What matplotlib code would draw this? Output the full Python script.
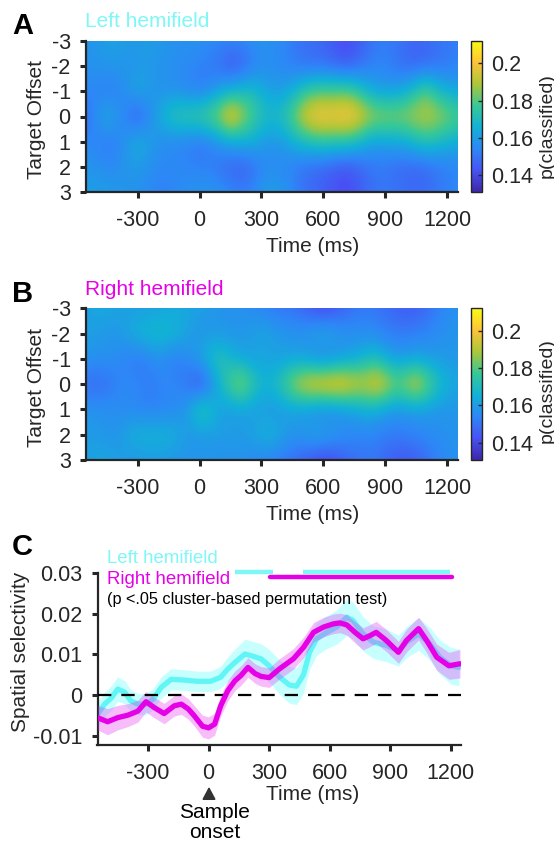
import numpy as np
import matplotlib
matplotlib.use('Agg')
import matplotlib.pyplot as plt
from matplotlib.colors import LinearSegmentedColormap

plt.rcParams['font.family'] = ['Liberation Sans', 'DejaVu Sans']
plt.rcParams['axes.unicode_minus'] = False

# ---------------- data ----------------
time_hm = [-550, -500, -450, -400, -350, -300, -250, -200, -150, -100, -50, 0, 50, 100, 150, 200, 250,
           300, 350, 400, 450, 500, 550, 600, 650, 700, 750, 800, 850, 900, 950, 1000, 1050, 1100,
           1150, 1200, 1250]
offsets = [-3, -2, -1, 0, 1, 2, 3]

# Panel A: Left hemifield p(classified)
A_m3 = [.158, .159, .161, .161, .160, .160, .161, .159, .158, .157, .157, .157, .156, .155, .155, .155, .157,
        .158, .157, .155, .152, .150, .149, .147, .144, .141, .143, .147, .151, .152, .151, .149, .147, .148,
        .150, .151, .152]
A_m2 = [.157, .158, .159, .159, .158, .158, .159, .158, .157, .156, .155, .153, .151, .148, .143, .145, .150,
        .155, .155, .154, .152, .149, .148, .148, .146, .144, .146, .150, .153, .153, .150, .147, .146, .147,
        .149, .151, .153]
A_m1 = [.155, .153, .151, .153, .158, .164, .161, .157, .157, .155, .153, .152, .155, .161, .165, .168, .170,
        .165, .161, .161, .165, .173, .178, .179, .179, .180, .176, .168, .162, .160, .161, .165, .174, .180,
        .170, .165, .162]
A_0 = [.148, .157, .165, .159, .151, .144, .153, .163, .172, .177, .178, .180, .184, .192, .204, .193, .181,
       .173, .170, .173, .183, .195, .202, .204, .203, .205, .203, .196, .190, .189, .188, .189, .191, .192,
       .190, .186, .182]
A_p1 = [.155, .153, .151, .153, .160, .166, .162, .157, .155, .153, .152, .150, .153, .158, .162, .164, .165,
        .161, .158, .160, .165, .170, .173, .175, .174, .174, .171, .165, .161, .162, .163, .165, .170, .173,
        .170, .167, .164]
A_p2 = [.158, .157, .155, .156, .158, .159, .157, .155, .155, .155, .154, .153, .152, .149, .146, .145, .147,
        .153, .155, .154, .152, .149, .147, .146, .144, .142, .144, .148, .150, .150, .148, .147, .146, .147,
        .150, .152, .153]
A_p3 = [.161, .161, .160, .159, .158, .157, .155, .153, .153, .155, .157, .158, .159, .157, .155, .153, .155,
        .159, .161, .159, .155, .151, .148, .146, .143, .141, .143, .147, .150, .151, .150, .149, .148, .149,
        .151, .153, .155]

# Panel B: Right hemifield p(classified)
B_m3 = [.161, .163, .163, .162, .161, .160, .160, .161, .162, .163, .162, .161, .160, .158, .157, .157, .155,
        .153, .151, .150, .149, .146, .142, .139, .142, .146, .149, .151, .150, .148, .146, .144, .145, .148,
        .152, .155, .157]
B_m2 = [.161, .160, .159, .159, .162, .167, .169, .170, .169, .166, .161, .158, .158, .158, .158, .159, .160,
        .163, .161, .159, .158, .159, .162, .165, .162, .158, .157, .156, .155, .153, .152, .152, .153, .154,
        .156, .157, .158]
B_m1 = [.158, .157, .157, .155, .153, .150, .153, .156, .153, .152, .156, .162, .170, .174, .167, .162, .161,
        .161, .161, .161, .161, .159, .155, .152, .155, .159, .162, .167, .170, .164, .160, .160, .161, .160,
        .159, .159, .159]
B_0 = [.148, .147, .149, .153, .155, .155, .152, .153, .155, .153, .148, .141, .151, .167, .181, .190, .178,
       .169, .169, .177, .189, .198, .203, .205, .206, .204, .199, .196, .200, .196, .186, .191, .197, .186,
       .174, .166, .163]
B_p1 = [.158, .158, .157, .156, .155, .153, .153, .153, .154, .156, .163, .176, .172, .162, .159, .160, .160,
        .159, .158, .159, .160, .158, .155, .153, .154, .157, .160, .164, .164, .160, .158, .158, .159, .159,
        .158, .158, .158]
B_p2 = [.160, .159, .158, .158, .163, .167, .167, .167, .167, .163, .159, .158, .159, .160, .161, .160, .162,
        .166, .167, .162, .159, .160, .163, .163, .160, .157, .155, .154, .153, .152, .152, .153, .154, .155,
        .156, .157, .158]
B_p3 = [.161, .163, .163, .161, .159, .158, .159, .159, .158, .158, .158, .159, .158, .157, .157, .157, .155,
        .153, .152, .150, .148, .145, .142, .139, .141, .145, .148, .150, .150, .147, .144, .143, .145, .149,
        .153, .155, .157]

# Panel C: spatial selectivity (mean and s.e.m.)
t_left = [-550, -515, -480, -450, -415, -385, -350, -310, -275, -235, -185, -120, -55, 10, 60, 95, 130, 180,
          210, 260, 300, 350, 400, 435, 470, 500, 535, 585, 635, 685, 715, 765, 815, 880, 940, 980, 1040,
          1095, 1145, 1200, 1240]
sel_left = [-0.0047, -0.0022, -0.0006, 0.0015, 0.0007, -0.0014, -0.0022, -0.0022, -0.0010, 0.0019, 0.0039,
            0.0037, 0.0034, 0.0034, 0.0044, 0.0064, 0.0080, 0.0101, 0.0097, 0.0089, 0.0072, 0.0045, 0.0025,
            0.0022, 0.0050, 0.0105, 0.0138, 0.0154, 0.0167, 0.0191, 0.0183, 0.0150, 0.0130, 0.0122, 0.0109,
            0.0130, 0.0150, 0.0126, 0.0093, 0.0072, 0.0068]
sem_left = [0.0030, 0.0030, 0.0030, 0.0030, 0.0028, 0.0027, 0.0026, 0.0026, 0.0026, 0.0026, 0.0026, 0.0025,
            0.0025, 0.0025, 0.0027, 0.0030, 0.0033, 0.0036, 0.0036, 0.0037, 0.0040, 0.0042, 0.0045, 0.0045,
            0.0045, 0.0042, 0.0040, 0.0040, 0.0042, 0.0045, 0.0045, 0.0042, 0.0040, 0.0040, 0.0038, 0.0038,
            0.0040, 0.0040, 0.0042, 0.0045, 0.0045]

t_right = [-550, -500, -450, -400, -350, -310, -270, -220, -170, -135, -100, -70, -30, 0, 30, 60, 95, 130, 160,
           195, 230, 260, 300, 350, 420, 470, 520, 570, 620, 650, 685, 725, 765, 800, 830, 880, 940, 980, 1040,
           1080, 1130, 1190, 1245]
sel_right = [-0.0055, -0.0065, -0.0055, -0.0049, -0.0039, -0.0016, -0.0030, -0.0045, -0.0026, -0.0022, -0.0034,
             -0.0051, -0.0076, -0.0080, -0.0071, -0.0026, 0.0011, 0.0035, 0.0048, 0.0068, 0.0053, 0.0046,
             0.0043, 0.0064, 0.0089, 0.0117, 0.0154, 0.0167, 0.0175, 0.0177, 0.0172, 0.0154, 0.0138, 0.0146,
             0.0154, 0.0134, 0.0105, 0.0134, 0.0163, 0.0134, 0.0093, 0.0072, 0.0077]
sem_right = [0.0030, 0.0032, 0.0030, 0.0028, 0.0027, 0.0025, 0.0025, 0.0025, 0.0025, 0.0025, 0.0025, 0.0025,
             0.0027, 0.0027, 0.0027, 0.0025, 0.0025, 0.0024, 0.0024, 0.0024, 0.0024, 0.0024, 0.0024, 0.0025,
             0.0025, 0.0025, 0.0024, 0.0024, 0.0024, 0.0024, 0.0025, 0.0026, 0.0027, 0.0027, 0.0027, 0.0027,
             0.0027, 0.0028, 0.0028, 0.0030, 0.0032, 0.0033, 0.0035]

# significant clusters (start, end) in ms
sig_left = [(133, 321), (470, 1197)]
sig_right = [(303, 1205)]

xticks = [-300, 0, 300, 600, 900, 1200]
cb_ticks = [0.14, 0.16, 0.18, 0.2]

# ---------------- style ----------------
W, H = 554, 842
fig = plt.figure(figsize=(W / 100, H / 100), dpi=100)
DARK = '#262626'
CYAN_TXT = '#7ff7f7'
MAGENTA = '#e600e6'
FS = 15.5


def rect(l, t, r, b):
    return [l / W, 1 - b / H, (r - l) / W, (b - t) / H]


def fx(x):
    return x / W


def fy(y):
    return 1 - y / H


# MATLAB parula colormap anchors
parula_anchors = [
    (0.2422, 0.1504, 0.6603), (0.2810, 0.3228, 0.9579), (0.1786, 0.5289, 0.9682), (0.0689, 0.6948, 0.8394),
    (0.2161, 0.7843, 0.5923), (0.6720, 0.7793, 0.2227), (0.9970, 0.7659, 0.2199), (0.9769, 0.9839, 0.0805)]
parula = LinearSegmentedColormap.from_list('parula', parula_anchors)


def style_axes(ax):
    for s in ['top', 'right']:
        ax.spines[s].set_visible(False)
    for s in ['left', 'bottom']:
        ax.spines[s].set_linewidth(1.6)
        ax.spines[s].set_color(DARK)
    ax.tick_params(direction='out', length=4, width=2.2, colors=DARK, labelsize=FS, pad=7)
    ax.tick_params(axis='x', pad=9)


def heat_panel(top, bottom, rows, letter, title, title_color, label_y):
    ax = fig.add_axes(rect(86, top, 457.6, bottom))
    cax = fig.add_axes(rect(471, top, 482.3, bottom))
    Z = np.array(rows)
    dt = (time_hm[1] - time_hm[0]) / 2
    im = ax.imshow(Z, cmap=parula, vmin=0.1307, vmax=0.2122, aspect='auto', interpolation='bicubic',
                   extent=[time_hm[0] - dt, time_hm[-1] + dt, offsets[-1] + 0.5, offsets[0] - 0.5])
    ax.set_xlim(-550, 1250)
    ax.set_ylim(3, -3)
    ax.set_xticks(xticks)
    ax.set_xticklabels([str(v) for v in xticks])
    ax.set_yticks(offsets)
    ax.set_yticklabels([str(v) for v in offsets])
    style_axes(ax)
    cb = fig.colorbar(im, cax=cax, ticks=cb_ticks)
    cb.ax.set_yticklabels(['0.14', '0.16', '0.18', '0.2'])
    cb.ax.tick_params(direction='in', length=3, width=1, labelsize=FS, pad=6, colors=DARK)
    cb.outline.set_linewidth(1.0)
    cb.outline.set_edgecolor(DARK)
    fig.text(fx(547), fy(label_y), 'p(classified)', rotation=90, ha='center', va='center',
             fontsize=14, color=DARK)
    fig.text(fx(12), fy(top - 14.5), letter, fontsize=21, fontweight='bold', ha='left', va='center',
             color='black')
    fig.text(fx(85), fy(top - 19), title, fontsize=15, color=title_color, ha='left', va='center')
    fig.text(fx(37), fy((top + bottom) / 2 + 3), 'Target Offset', rotation=90, ha='center', va='center',
             fontsize=15, color=DARK)
    fig.text(fx(312.7), fy(bottom + 54.4), 'Time (ms)', ha='center', va='center', fontsize=15, color=DARK)
    return ax


heat_panel(40.7, 192.3, [A_m3, A_m2, A_m1, A_0, A_p1, A_p2, A_p3], 'A', 'Left hemifield', CYAN_TXT, 126)
heat_panel(308.3, 460, [B_m3, B_m2, B_m1, B_0, B_p1, B_p2, B_p3], 'B', 'Right hemifield', MAGENTA, 391)

# ---------------- panel C ----------------
axC = fig.add_axes(rect(97.5, 572.7, 461, 745))
tl = np.array(t_left)
ml = np.array(sel_left)
sl = np.array(sem_left)
tr = np.array(t_right)
mr = np.array(sel_right)
sr = np.array(sem_right)

axC.fill_between(tl, ml - sl, ml + sl, color=(0.0, 1.0, 1.0), alpha=0.22, lw=0, zorder=1)
axC.plot(tl, ml, color=(0.25, 0.95, 0.95), lw=3.8, alpha=0.75, zorder=2, solid_capstyle='round')
axC.fill_between(tr, mr - sr, mr + sr, color=(0.9, 0.2, 0.95), alpha=0.32, lw=0, zorder=3)
axC.axhline(0, color='black', lw=1.6, ls=(0, (6, 4.5)), zorder=4)
axC.plot(tr, mr, color=MAGENTA, lw=3.8, zorder=5, solid_capstyle='round')

for s, e in sig_left:
    axC.plot([s, e], [0.0302, 0.0302], color='#7ff7f7', lw=3.2, clip_on=False, zorder=6,
             solid_capstyle='butt')
for s, e in sig_right:
    axC.plot([s, e], [0.0289, 0.0289], color=MAGENTA, lw=3.2, clip_on=False, zorder=7,
             solid_capstyle='round')

axC.set_xlim(-550, 1250)
axC.set_ylim(-0.0122, 0.030)
axC.set_xticks(xticks)
axC.set_xticklabels([str(v) for v in xticks])
axC.set_yticks([-0.01, 0, 0.01, 0.02, 0.03])
axC.set_yticklabels(['-0.01', '0', '0.01', '0.02', '0.03'])
style_axes(axC)

fig.text(fx(12), fy(546.7), 'C', fontsize=21, fontweight='bold', ha='left', va='center', color='black')
fig.text(fx(107), fy(558.3), 'Left hemifield', fontsize=13.4, color=CYAN_TXT, ha='left', va='center')
fig.text(fx(107), fy(579.3), 'Right hemifield', fontsize=13.4, color=MAGENTA, ha='left', va='center')
fig.text(fx(107), fy(599.3), '(p <.05 cluster-based permutation test)', fontsize=11.7, color='black',
         ha='left', va='center')
fig.text(fx(21), fy(651.7), 'Spatial selectivity', rotation=90, ha='center', va='center', fontsize=15,
         color=DARK)
fig.text(fx(312.7), fy(795), 'Time (ms)', ha='center', va='center', fontsize=15, color=DARK)

axC.annotate('', xy=(209, H - 784), xycoords='figure pixels', xytext=(209, H - 801),
             textcoords='figure pixels',
             arrowprops=dict(arrowstyle='-|>,head_length=0.75,head_width=0.4', color='#333333', lw=1.3))
fig.text(fx(214.8), fy(803), 'Sample\nonset', ha='center', va='top', fontsize=15, color='black',
         linespacing=1.1)

fig.savefig('out.png', dpi=100)
